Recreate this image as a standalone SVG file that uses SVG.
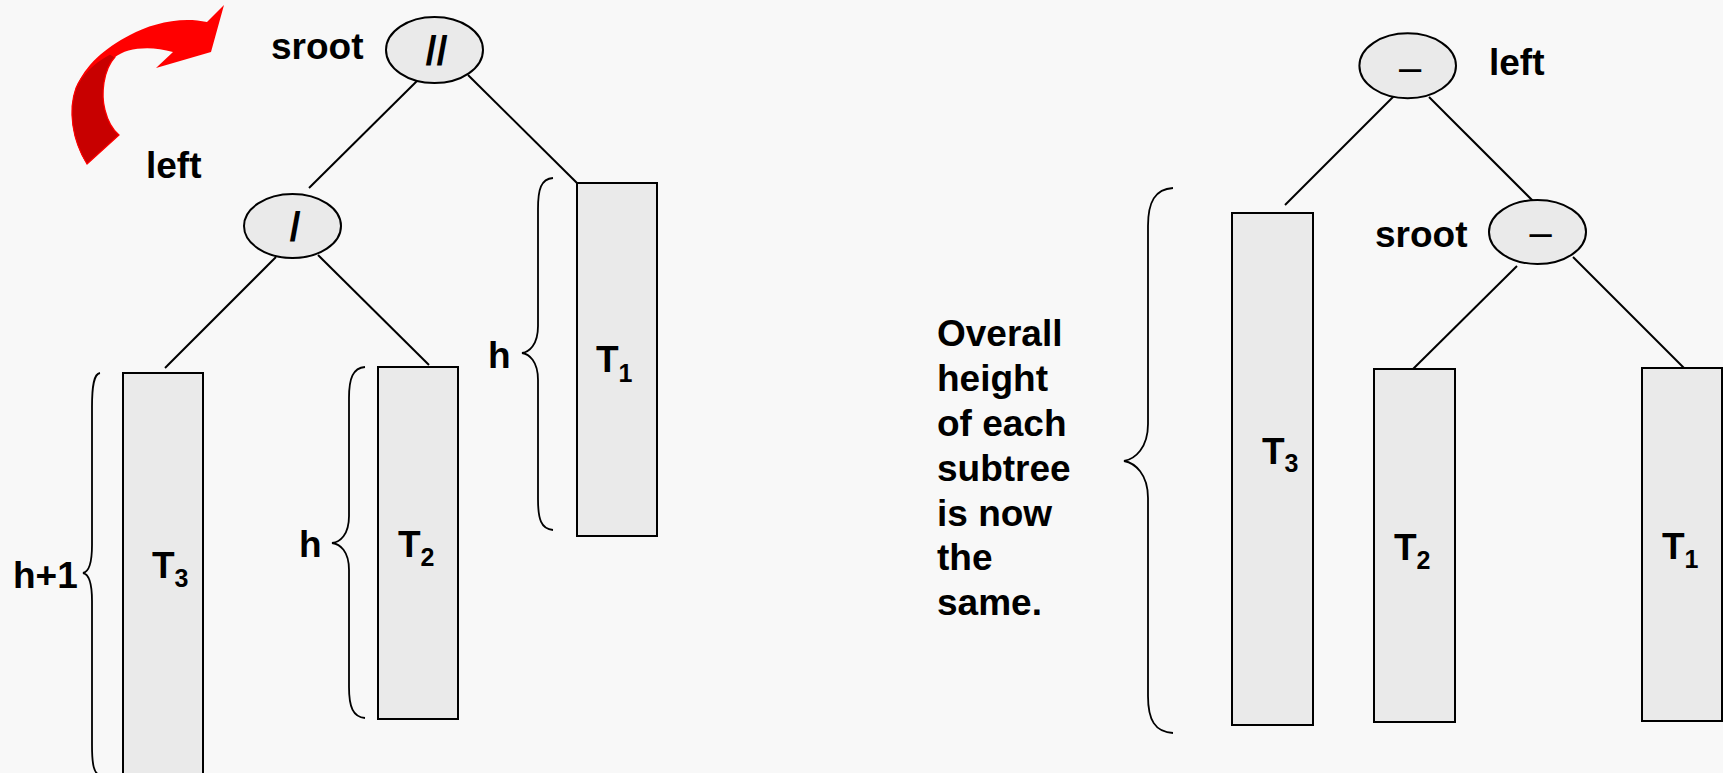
<svg xmlns="http://www.w3.org/2000/svg" width="1723" height="773" viewBox="0 0 1723 773">
<defs>
<style>
.bg{fill:#F8F8F8}
.node{fill:#EAEAEA;stroke:#000;stroke-width:2}
.tree{fill:#EAEAEA;stroke:#000;stroke-width:2}
.edge{stroke:#000;stroke-width:2;fill:none}
.brace{stroke:#000;stroke-width:1.8;fill:none}
.lbl{font-family:"Liberation Sans",Arial,sans-serif;font-weight:bold;font-size:37px;fill:#000}
.sym{font-family:"Liberation Sans",Arial,sans-serif;font-weight:bold;font-size:40px;fill:#000;text-anchor:middle}
.dash{font-weight:normal}
.sub{font-size:25px}
</style>
</defs>
<rect class="bg" x="0" y="0" width="1723" height="773"/>

<g id="rotate-arrow">
<path d="M224,5 L211,52 L156,68 L173,52 C150,45 126,48 115,57 C103,70 101,95 105,110 C108,122 113,130 119,135 L87,164 C72,140 68,110 76,88 C85,65 105,48 130,35 C150,24 180,16 207,22 Z" fill="#FF0000"/>
<path d="M115,57 C103,70 101,95 105,110 C108,122 113,130 119,135 L87,164 C72,140 68,110 76,88 C82,74 93,63 110,54 Z" fill="#C80000" stroke="#FF0000" stroke-width="1.2"/>
</g>

<g id="connectors">
<line class="edge" x1="421" y1="77" x2="309" y2="188"/>
<line class="edge" x1="468" y1="75" x2="577" y2="183"/>
<line class="edge" x1="276" y1="257" x2="165" y2="368"/>
<line class="edge" x1="318" y1="255" x2="429" y2="365"/>
<line class="edge" x1="1397" y1="93" x2="1285" y2="205"/>
<line class="edge" x1="1429" y1="97" x2="1540" y2="208"/>
<line class="edge" x1="1517" y1="266" x2="1413" y2="369"/>
<line class="edge" x1="1573" y1="257" x2="1684" y2="368"/>
</g>

<g id="node-sroot-left">
<ellipse class="node" cx="434.5" cy="50" rx="48.5" ry="33"/>
<text class="sym" x="436.5" y="65">//</text>
<text class="lbl" x="271" y="59">sroot</text>
</g>
<text id="label-left" class="lbl" x="146" y="178">left</text>

<g id="node-left-left">
<ellipse class="node" cx="292.5" cy="226" rx="48.5" ry="32"/>
<text class="sym" x="295" y="241">/</text>
</g>

<g id="tree-T3-left">
<rect class="tree" x="123" y="373" width="80" height="402"/>
<text class="lbl" x="152" y="578">T<tspan class="sub" dy="9">3</tspan></text>
</g>
<g id="tree-T2-left">
<rect class="tree" x="378" y="367" width="80" height="352"/>
<text class="lbl" x="398" y="557">T<tspan class="sub" dy="9">2</tspan></text>
</g>
<g id="tree-T1-left">
<rect class="tree" x="577" y="183" width="80" height="353"/>
<text class="lbl" x="596" y="372">T<tspan class="sub" dy="10">1</tspan></text>
</g>

<g id="brace-h1">
<path class="brace" d="M100,373 C94,374 92,385 92,407 L92,545 C92,565 88,572 83,573 C88,574 92,581 92,601 L92,745 C92,765 94,774 100,775"/>
<text class="lbl" x="13" y="588">h+1</text>
</g>
<g id="brace-h2">
<path class="brace" d="M365,367 C353,368 349,378 349,398 L349,516 C349,535 340,542 332,543 C340,544 349,551 349,570 L349,687 C349,707 353,717 365,718"/>
<text class="lbl" x="299" y="557">h</text>
</g>
<g id="brace-h3">
<path class="brace" d="M553,178 C541,179 538,189 538,209 L538,326 C538,345 529,352 522,353 C529,354 538,361 538,380 L538,499 C538,519 541,529 553,530"/>
<text class="lbl" x="488" y="368">h</text>
</g>

<g id="node-left-right">
<ellipse class="node" cx="1407.7" cy="65.8" rx="48.3" ry="32.5"/>
<text class="sym dash" x="1410" y="81">–</text>
<text class="lbl" x="1489" y="75">left</text>
</g>
<g id="node-sroot-right">
<ellipse class="node" cx="1537.5" cy="232" rx="48.5" ry="32"/>
<text class="sym dash" x="1540.5" y="246">–</text>
<text class="lbl" x="1375" y="247">sroot</text>
</g>

<g id="tree-T3-right">
<rect class="tree" x="1232" y="213" width="81" height="512"/>
<text class="lbl" x="1262" y="464">T<tspan class="sub" dy="8">3</tspan></text>
</g>
<g id="tree-T2-right">
<rect class="tree" x="1374" y="369" width="81" height="353"/>
<text class="lbl" x="1394" y="560">T<tspan class="sub" dy="9">2</tspan></text>
</g>
<g id="tree-T1-right">
<rect class="tree" x="1642" y="368" width="80" height="353"/>
<text class="lbl" x="1662" y="559">T<tspan class="sub" dy="9">1</tspan></text>
</g>

<g id="brace-overall">
<path class="brace" d="M1173,188 C1155,189 1148,202 1148,226 L1148,424 C1148,448 1135,459 1124,461 C1135,463 1148,474 1148,498 L1148,696 C1148,720 1155,732 1173,733"/>
<text class="lbl"><tspan x="937" y="346">Overall</tspan><tspan x="937" y="391">height</tspan><tspan x="937" y="436">of each</tspan><tspan x="937" y="481">subtree</tspan><tspan x="937" y="526">is now</tspan><tspan x="937" y="570">the</tspan><tspan x="937" y="615">same.</tspan></text>
</g>
</svg>
